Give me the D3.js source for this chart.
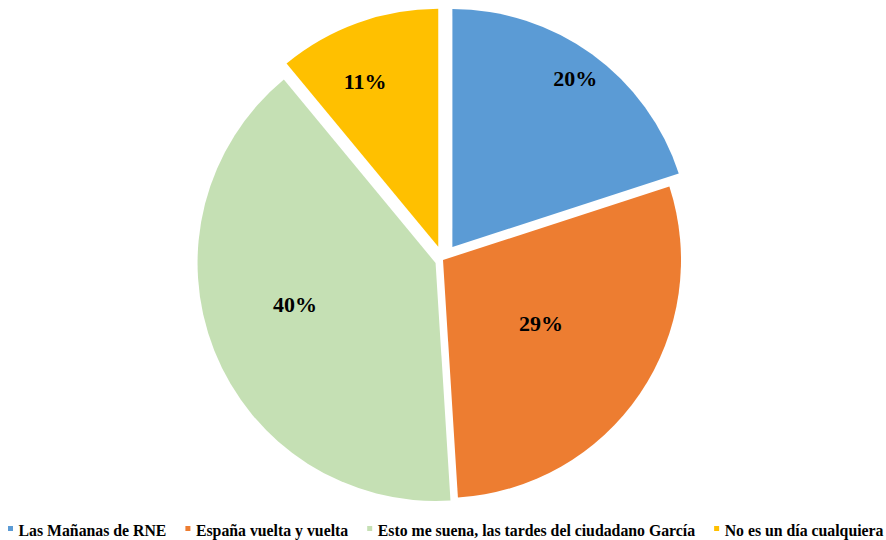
<!DOCTYPE html>
<html>
<head>
<meta charset="utf-8">
<script src="https://cdn.jsdelivr.net/npm/d3@7"></script>
<style>
  body { margin: 0; background: #ffffff; }
  text { font-family: "Liberation Serif", "Times New Roman", serif; font-weight: bold; }
</style>
</head>
<body>
<svg id="chart" width="886" height="540"></svg>
<script>
// Audience share by programme
const categories = [
  "Las Mañanas de RNE",
  "España vuelta y vuelta",
  "Esto me suena, las tardes del ciudadano García",
  "No es un día cualquiera"
];
const shares = [20, 29, 40, 11];
const colors = ["#5B9BD5", "#ED7D31", "#C5E0B4", "#FFC000"];

// Per-slice layout settings
const explode = [16, 0, 8, 14];             // outward shift of each slice, px
const labelAt = [0.5, 0.486, 0.537, 0.399]; // label angle, as a fraction of the slice sweep
const labelRadius = [0.878, 0.49, 0.615, 0.762]; // label distance, as a fraction of the radius

const width = 886, height = 540;
const cx = 443, cy = 260, R = 238;

const svg = d3.select("#chart");

const arcs = d3.pie().sort(null).value(d => d)(shares);
const arc = d3.arc().innerRadius(0).outerRadius(R);
const fmt = d3.format(".0%");
const total = d3.sum(shares);

const plot = svg.append("g").attr("transform", `translate(${cx},${cy})`);

const slice = plot.selectAll("g.slice")
  .data(arcs)
  .join("g")
  .attr("class", "slice")
  .attr("transform", (d, i) => {
    const mid = (d.startAngle + d.endAngle) / 2;
    return `translate(${Math.sin(mid) * explode[i]},${-Math.cos(mid) * explode[i]})`;
  });

slice.append("path")
  .attr("d", arc)
  .attr("fill", (d, i) => colors[i]);

slice.append("text")
  .attr("x", (d, i) => {
    const a = d.startAngle + (d.endAngle - d.startAngle) * labelAt[i];
    return Math.sin(a) * R * labelRadius[i];
  })
  .attr("y", (d, i) => {
    const a = d.startAngle + (d.endAngle - d.startAngle) * labelAt[i];
    return -Math.cos(a) * R * labelRadius[i];
  })
  .attr("dy", "0.35em")
  .attr("text-anchor", "middle")
  .attr("font-size", 22)
  .attr("fill", "#000")
  .text(d => fmt(d.value / total));

// Legend along the bottom: measure at a base size, then shrink to fit the width
const legend = svg.append("g").attr("class", "legend");
const startX = 8, rightEdge = 884, gap = 19, swatchGap = 10.5;
let fontSize = 16;
const items = categories.map((name, i) => {
  const t = legend.append("text")
    .attr("y", 536)
    .attr("font-size", fontSize)
    .attr("fill", "#000")
    .text(name);
  return { t, w: t.node().getComputedTextLength() };
});
const textTotal = d3.sum(items, d => d.w);
const fixed = categories.length * swatchGap + (categories.length - 1) * gap;
const avail = rightEdge - startX - fixed;
if (textTotal > avail) fontSize = fontSize * avail / textTotal;

let x = startX;
items.forEach((it, i) => {
  legend.append("rect")
    .attr("x", x).attr("y", 526)
    .attr("width", 5).attr("height", 5)
    .attr("fill", colors[i]);
  it.t.attr("x", x + swatchGap).attr("font-size", fontSize);
  x += swatchGap + it.t.node().getComputedTextLength() + gap;
});
</script>
</body>
</html>
